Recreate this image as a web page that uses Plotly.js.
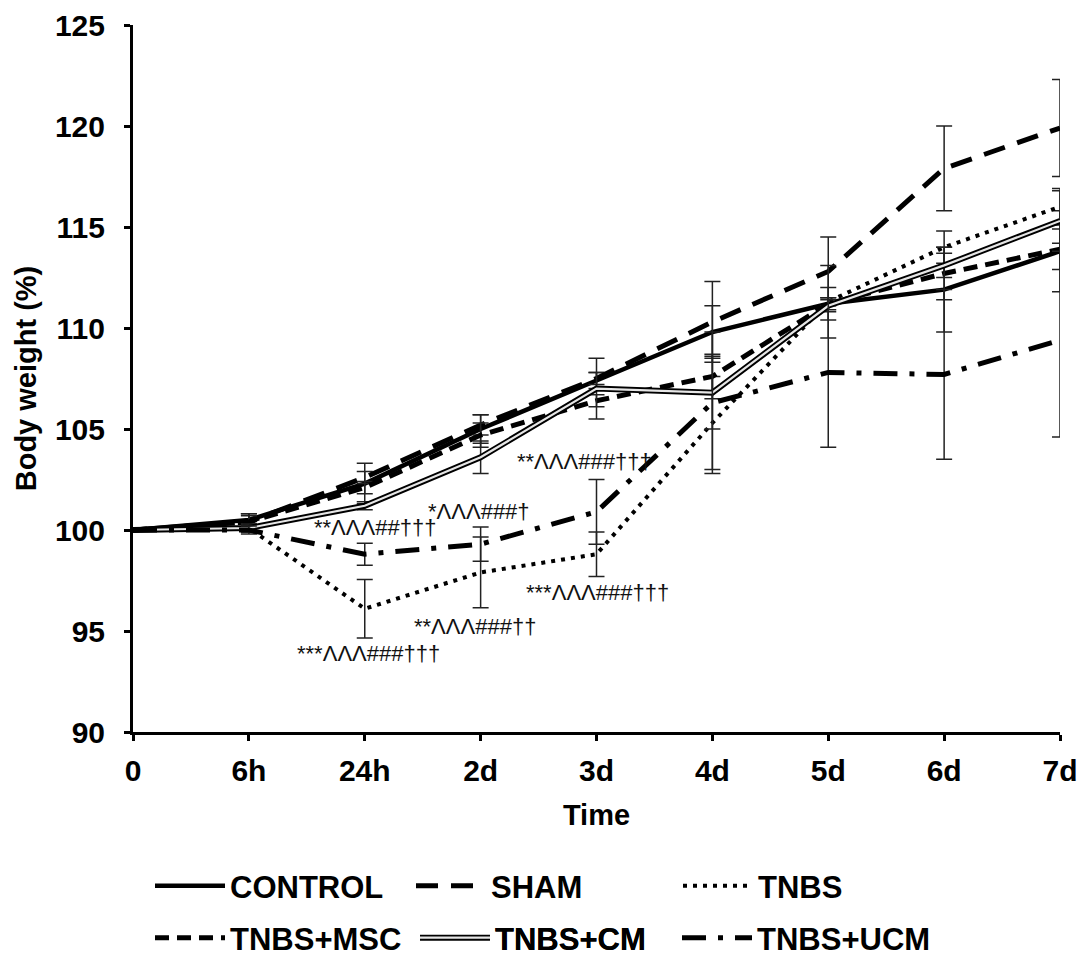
<!DOCTYPE html>
<html>
<head>
<meta charset="utf-8">
<script src="https://cdn.plot.ly/plotly-3.0.1.min.js"></script>
<style>html,body{margin:0;padding:0;background:#fff;}#chart{width:1089px;height:967px;}</style>
</head>
<body>
<div id="chart"></div>
<script>
// ---- data ----
const categories = ['0', '6h', '24h', '2d', '3d', '4d', '5d', '6d', '7d'];
const seriesNames = ['CONTROL', 'SHAM', 'TNBS', 'TNBS+MSC', 'TNBS+CM', 'TNBS+UCM'];
const control = [100, 100.5, 102.3, 105.0, 107.4, 109.8, 111.2, 111.9, 113.8];
const sham    = [100, 100.4, 102.6, 105.2, 107.5, 110.3, 112.8, 117.9, 119.9];
const tnbs    = [100, 100.1, 96.1, 97.9, 98.8, 105.3, 111.3, 114.0, 116.0];
const msc     = [100, 100.4, 102.1, 104.7, 106.4, 107.6, 111.2, 112.7, 113.9];
const cm      = [100, 100.1, 101.2, 103.6, 107.0, 106.8, 111.1, 113.1, 115.3];
const ucm     = [100, 100.0, 98.8, 99.3, 100.9, 106.3, 107.8, 107.7, 109.4];
const controlErr = [0, 0.3, 1.0, 0.7, 0.4, 1.3, 0.8, 2.1, 2.0];
const shamErr    = [0, 0.4, 0.3, 0.5, 0.3, 2.0, 1.7, 2.1, 2.4];
const tnbsErr    = [0, 0.2, 1.45, 1.75, 1.1, 2.3, 1.8, 0.8, 0.9];
const mscErr     = [0, 0.3, 0.3, 0.6, 0.3, 1.1, 0.3, 1.3, 1.0];
const cmErr      = [0, 0.2, 0.2, 0.8, 1.5, 1.8, 0.3, 0.6, 1.5];
const ucmErr     = [0, 0.2, 0.55, 0.85, 1.6, 3.5, 3.7, 4.2, 4.8];
const sigLabels = ['**ΛΛΛ##†††', '*ΛΛΛ###†', '**ΛΛΛ###†††', '***ΛΛΛ###†††', '**ΛΛΛ###††', '***ΛΛΛ###†††'];
const yTitle = 'Body weight (%)';
const xTitle = 'Time';

// ---- styling ----
const FONT = 'Liberation Sans, Arial, sans-serif';
function err(a) {
  return {type: 'data', array: a, visible: true, color: '#222', thickness: 1.5, width: 8};
}
function tr(y, e, name, line, legend) {
  return {x: categories, y: y, name: name, type: 'scatter', mode: 'lines',
          line: line, error_y: e ? err(e) : {visible: false}, legend: legend, cliponaxis: false};
}
const traces = [
  tr(control, controlErr, seriesNames[0], {color: '#000', width: 4.5}, 'legend'),
  tr(sham, shamErr, seriesNames[1], {color: '#000', width: 5, dash: '22px,13px'}, 'legend2'),
  tr(tnbs, tnbsErr, seriesNames[2], {color: '#000', width: 4, dash: '4px,6px'}, 'legend3'),
  tr(msc, mscErr, seriesNames[3], {color: '#000', width: 5, dash: '14px,8px'}, 'legend4'),
  tr(cm, cmErr, seriesNames[4], {color: '#000', width: 6}, 'legend5'),
  tr(cm, null, seriesNames[4], {color: '#e6e6e6', width: 2.2}, 'legend7'),
  tr(ucm, ucmErr, seriesNames[5], {color: '#000', width: 5, dash: '24px,12px,5px,12px'}, 'legend6')
];

const W = 927, H = 707, L = 133, T = 25;
function px2x(px) { return (px - L) / W; }
function py2y(py) { return (T + H - py) / H; }
function leg(px, py) {
  return {x: px2x(px), y: py2y(py), xanchor: 'left', yanchor: 'middle', orientation: 'h',
          bgcolor: 'rgba(0,0,0,0)', borderwidth: 0, itemwidth: 70,
          font: {family: FONT, size: 31, color: '#000', weight: 'bold'}};
}

const axFont = {family: FONT, size: 30, color: '#000', weight: 'bold'};
const titleFont = {family: FONT, size: 29, color: '#000', weight: 'bold'};
const annFont = {family: FONT, size: 22, color: '#111'};
const annPos = [[2.09, 100.1], [2.99, 100.9], [3.9, 103.4], [4.01, 96.9], [2.95, 95.2], [2.03, 93.9]];
const annotations = sigLabels.map((t, i) => ({
  x: annPos[i][0], y: annPos[i][1], xref: 'x', yref: 'y', text: t, showarrow: false, font: annFont
}));

const layout = {
  width: 1089, height: 967,
  margin: {l: L, r: 1089 - L - W, t: T, b: 967 - T - H, pad: 0, autoexpand: false},
  paper_bgcolor: '#fff', plot_bgcolor: '#fff',
  font: {family: FONT, color: '#000'},
  showlegend: true,
  xaxis: {type: 'category', range: [0, 8], showgrid: false, zeroline: false,
          showline: true, linecolor: '#000', linewidth: 3,
          ticks: 'outside', ticklen: 6, tickwidth: 3, tickcolor: '#000',
          tickfont: axFont, ticklabelstandoff: 4,
          title: {text: xTitle, font: titleFont, standoff: 19}, automargin: false},
  yaxis: {range: [90, 125], dtick: 5, showgrid: false, zeroline: false,
          showline: true, linecolor: '#000', linewidth: 3,
          ticks: 'outside', ticklen: 6, tickwidth: 3, tickcolor: '#000',
          tickfont: axFont, ticklabelstandoff: 13,
          title: {text: yTitle, font: titleFont, standoff: 10}, automargin: false},
  xaxis2: {overlaying: 'x', anchor: 'y', range: [0, 8], dtick: 1, showgrid: false, zeroline: false,
           showline: false, ticks: 'inside', ticklen: 6, tickwidth: 3, tickcolor: '#000',
           showticklabels: false, side: 'bottom'},
  yaxis2: {overlaying: 'y', anchor: 'x', range: [90, 125], dtick: 5, showgrid: false, zeroline: false,
           showline: false, ticks: 'inside', ticklen: 6, tickwidth: 3, tickcolor: '#000',
           showticklabels: false, side: 'left'},
  legend: leg(150, 886),
  legend2: leg(411, 886),
  legend3: leg(678, 886),
  legend4: leg(150, 938),
  legend5: leg(415, 938),
  legend7: leg(415, 938),
  legend6: leg(677, 938),
  annotations: annotations
};

Plotly.newPlot('chart', traces, layout, {displayModeBar: false, staticPlot: true});
</script>
</body>
</html>
